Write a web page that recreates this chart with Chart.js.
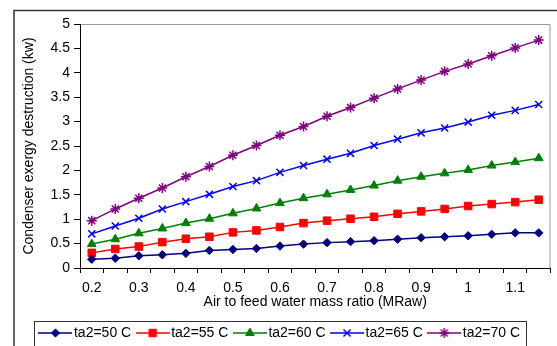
<!DOCTYPE html>
<html>
<head>
<meta charset="utf-8">
<script src="https://cdn.jsdelivr.net/npm/chart.js@4.4.1/dist/chart.umd.min.js"></script>
<style>
  body { margin: 0; background: #fff; }
</style>
</head>
<body>
<canvas id="chart" width="557" height="346"></canvas>
<script>
// Air to feed water mass ratio (categories)
var mraw = [0.2, 0.25, 0.3, 0.35, 0.4, 0.45, 0.5, 0.55, 0.6, 0.65,
            0.7, 0.75, 0.8, 0.85, 0.9, 0.95, 1.0, 1.05, 1.1, 1.15];

// Condenser exergy destruction (kw) for each ta2
var ta50 = [0.18, 0.20, 0.25, 0.27, 0.30, 0.36, 0.38, 0.40, 0.45, 0.49,
            0.52, 0.54, 0.56, 0.59, 0.62, 0.64, 0.66, 0.69, 0.72, 0.72];
var ta55 = [0.31, 0.39, 0.44, 0.53, 0.60, 0.64, 0.73, 0.77, 0.84, 0.92,
            0.97, 1.01, 1.05, 1.11, 1.16, 1.21, 1.27, 1.31, 1.35, 1.40];
var ta60 = [0.49, 0.59, 0.71, 0.81, 0.92, 1.01, 1.12, 1.22, 1.33, 1.43,
            1.51, 1.60, 1.69, 1.79, 1.87, 1.94, 2.01, 2.10, 2.17, 2.25];
var ta65 = [0.70, 0.86, 1.02, 1.21, 1.36, 1.51, 1.67, 1.79, 1.96, 2.10,
            2.23, 2.35, 2.51, 2.64, 2.77, 2.87, 2.99, 3.13, 3.23, 3.35];
var ta70 = [0.97, 1.21, 1.43, 1.64, 1.87, 2.08, 2.31, 2.51, 2.72, 2.90,
            3.11, 3.29, 3.48, 3.67, 3.85, 4.03, 4.18, 4.35, 4.51, 4.67];

var seriesNames = ['ta2=50 C', 'ta2=55 C', 'ta2=60 C', 'ta2=65 C', 'ta2=70 C'];

var FONT = 'Liberation Sans, Arial, sans-serif';

function makeSet(label, data, color, style, radius, filled) {
    return {
        label: label,
        data: data,
        borderColor: color,
        backgroundColor: filled ? color : 'transparent',
        borderWidth: 1.5,
        pointStyle: style,
        pointRadius: radius,
        pointHoverRadius: radius,
        pointBorderWidth: filled ? 1 : 1.5,
        pointBorderColor: color,
        pointBackgroundColor: filled ? color : 'transparent',
        tension: 0,
        fill: false
    };
}

var datasets = [
    makeSet(seriesNames[0], ta50, '#000080', 'rectRot', 4.2, true),
    makeSet(seriesNames[1], ta55, '#ff0000', 'rect', 5.3, true),
    makeSet(seriesNames[2], ta60, '#008000', 'triangle', 5, true),
    makeSet(seriesNames[3], ta65, '#0000ff', 'crossRot', 5, false),
    makeSet(seriesNames[4], ta70, '#800080', 'star', 5, false)
];

// small line + marker pictures for the legend
function legendImage(ds) {
    var c = document.createElement('canvas');
    c.width = 34;
    c.height = 14;
    var g = c.getContext('2d');
    g.strokeStyle = ds.borderColor;
    g.lineWidth = 1.5;
    g.beginPath();
    g.moveTo(0, 7);
    g.lineTo(34, 7);
    g.stroke();
    g.fillStyle = ds.pointBackgroundColor;
    g.strokeStyle = ds.pointBorderColor;
    g.lineWidth = ds.pointBorderWidth;
    Chart.helpers.drawPoint(g, {
        pointStyle: ds.pointStyle,
        radius: ds.pointRadius,
        rotation: 0,
        borderWidth: ds.pointBorderWidth
    }, 17, 7);
    return c;
}
var legendImgs = datasets.map(legendImage);

// outer border, plot frame and legend box
var framePlugin = {
    id: 'frame',
    beforeDraw: function(chart) {
        var ctx = chart.ctx;
        ctx.save();
        ctx.fillStyle = '#fff';
        ctx.fillRect(0, 0, chart.width, chart.height);
        ctx.strokeStyle = '#333';
        ctx.lineWidth = 1.5;
        ctx.strokeRect(14, 10.5, 700, 500);
        var a = chart.chartArea;
        ctx.strokeStyle = '#9a9a9a';
        ctx.lineWidth = 1;
        ctx.beginPath();
        ctx.moveTo(a.left, a.top + 0.5);
        ctx.lineTo(a.right - 0.5, a.top + 0.5);
        ctx.lineTo(a.right - 0.5, a.bottom);
        ctx.stroke();
        ctx.restore();
    },
    afterDraw: function(chart) {
        var lg = chart.legend;
        var hb = lg.legendHitBoxes;
        if (!hb || !hb.length) return;
        var last = hb[hb.length - 1];
        var left = hb[0].left - 10;
        var right = last.left + last.width + 6;
        var ctx = chart.ctx;
        ctx.save();
        ctx.strokeStyle = '#333';
        ctx.lineWidth = 1;
        ctx.strokeRect(Math.round(left) + 0.5, lg.top + 5.5, Math.round(right - left), 60);
        ctx.restore();
    }
};

new Chart(document.getElementById('chart').getContext('2d'), {
    type: 'line',
    data: {
        labels: mraw,
        datasets: datasets
    },
    plugins: [framePlugin],
    options: {
        responsive: false,
        animation: false,
        devicePixelRatio: 1,
        layout: {
            padding: { left: 8, right: 1, top: 24, bottom: 0 }
        },
        plugins: {
            tooltip: { enabled: false },
            legend: {
                position: 'bottom',
                maxHeight: 30,
                labels: {
                    usePointStyle: true,
                    pointStyleWidth: 23,
                    padding: 10,
                    color: '#000',
                    font: { family: FONT, size: 14 },
                    generateLabels: function(chart) {
                        var items = Chart.defaults.plugins.legend.labels.generateLabels(chart);
                        items.forEach(function(it, i) {
                            it.pointStyle = legendImgs[i];
                        });
                        return items;
                    }
                }
            }
        },
        scales: {
            x: {
                type: 'category',
                offset: true,
                afterFit: function(scale) { scale.height = 48; },
                grid: {
                    offset: true,
                    drawOnChartArea: false,
                    tickLength: 5,
                    color: '#000'
                },
                border: { color: '#000', width: 1 },
                ticks: {
                    autoSkip: false,
                    maxRotation: 0,
                    padding: 7,
                    color: '#000',
                    font: { family: FONT, size: 14 },
                    callback: function(value, index) {
                        return index % 2 === 0 ? String(mraw[index]) : '';
                    }
                },
                title: {
                    display: true,
                    text: 'Air to feed water mass ratio (MRaw)',
                    color: '#000',
                    font: { family: FONT, size: 14 },
                    padding: { top: 0, bottom: 5 }
                }
            },
            y: {
                min: 0,
                max: 5,
                afterFit: function(scale) { scale.width = 72; },
                grid: {
                    drawOnChartArea: false,
                    tickLength: 6,
                    color: '#000'
                },
                border: { color: '#000', width: 1 },
                ticks: {
                    stepSize: 0.5,
                    padding: 4,
                    color: '#000',
                    font: { family: FONT, size: 14 },
                    callback: function(value) { return String(value); }
                },
                title: {
                    display: true,
                    text: 'Condenser exergy destruction (kw)',
                    color: '#000',
                    font: { family: FONT, size: 14 },
                    padding: { top: 13, bottom: 0 }
                }
            }
        }
    }
});
</script>
</body>
</html>
